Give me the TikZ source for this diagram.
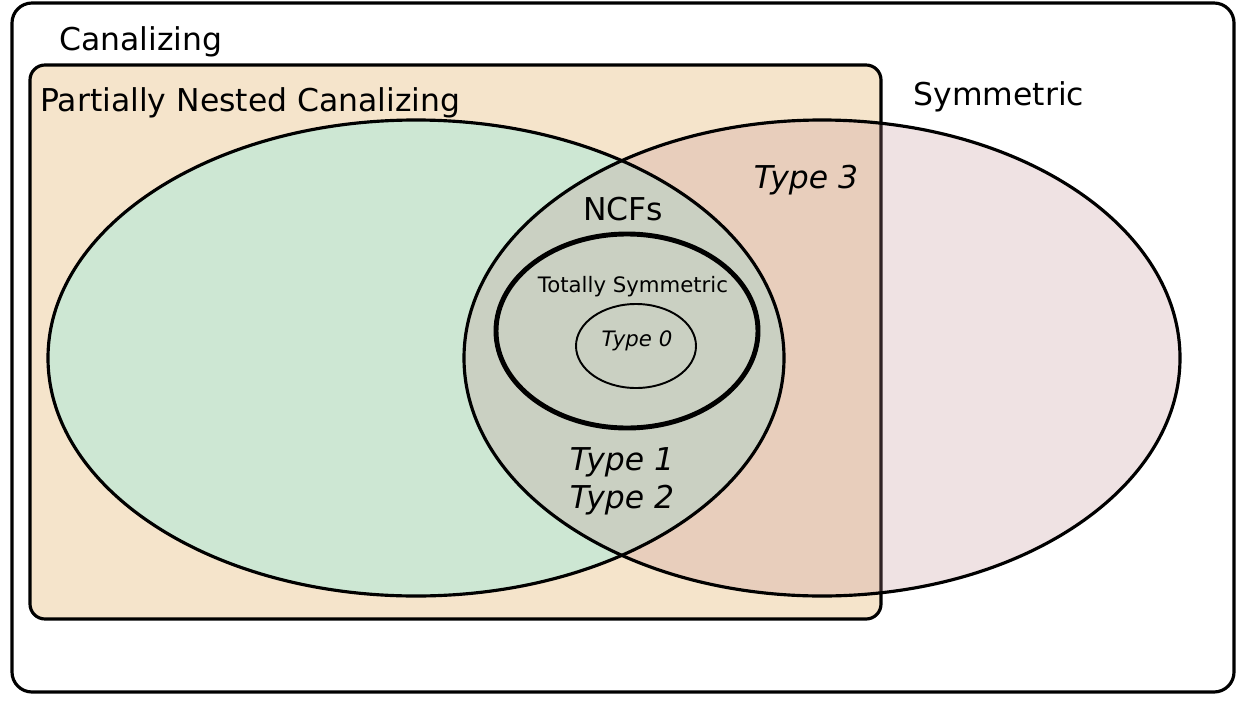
\documentclass[tikz,border=0pt]{standalone}
\usepackage{fontspec}
\setmainfont{DejaVu Sans}
\usetikzlibrary{calc}

\definecolor{canal}{HTML}{F5E4CB}
\definecolor{pnc}{HTML}{CDE7D3}
\definecolor{symm}{RGB}{195,143,147}

\tikzset{
  setline/.style={line width=1.8pt},
  big/.style={font=\fontsize{17.9}{21}\selectfont},
  small/.style={font=\fontsize{12.1}{14}\selectfont}
}

\begin{document}
\begin{tikzpicture}[x=0.02cm,y=-0.02cm]
        \useasboundingbox (0,0) rectangle (1237,700);
        % all functions
        \draw[setline,fill=white,rounded corners=0.4cm] (12,3) rectangle (1234,692);
        % canalizing box and the two big sets
        \fill[canal,rounded corners=0.3cm] (30,65) rectangle (881,619);
        \fill[pnc] (416,358) ellipse [x radius=368, y radius=238];
        \draw[setline,rounded corners=0.3cm] (30,65) rectangle (881,619);
        \fill[symm,fill opacity=0.25] (822,358) ellipse [x radius=358, y radius=238];
        \draw[setline] (416,358) ellipse [x radius=368, y radius=238];
        \draw[setline] (822,358) ellipse [x radius=358, y radius=238];
        % nested canalizing and type 0
        \draw[line width=2.8pt] (627,331) ellipse [x radius=131, y radius=97];
        \draw[line width=1.1pt] (636,346) ellipse [x radius=60, y radius=42];
        % labels
        \node[big] (canalizing) at (141,42) {Canalizing};
        \node[big,anchor=west,inner sep=0pt] (partial) at (40,103) {Partially Nested Canalizing};
        \node[big] (symmetric) at (999,97) {Symmetric};
        \node[big] (type3) at (806,180) {\itshape Type 3};
        \node[big] (ncfs) at (623,209) {NCFs};
        \node[small] (totsym) at (633,287) {Totally Symmetric};
        \node[small] (type0) at (637,341) {\itshape Type 0};
        \node[big] (type1) at (622,462) {\itshape Type 1};
        \node[big] (type2) at (622,500) {\itshape Type 2};
      \end{tikzpicture}
\end{document}
